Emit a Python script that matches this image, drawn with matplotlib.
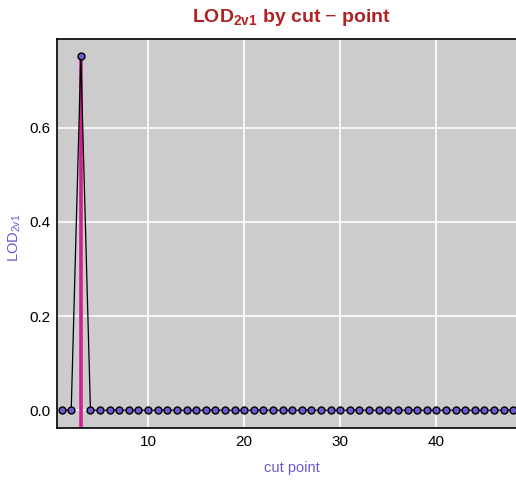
import matplotlib
matplotlib.use("Agg")
import matplotlib.pyplot as plt
import numpy as np

plt.rcParams["font.family"] = ["Liberation Sans", "DejaVu Sans"]
plt.rcParams["mathtext.fontset"] = "custom"
plt.rcParams["mathtext.rm"] = "Liberation Sans"
plt.rcParams["mathtext.bf"] = "Liberation Sans:bold"

cut_points = list(range(1, 49))
lod_values = [0.0, 0.0, 0.752] + [0.0] * 45
best_cut = 3
xticks = [10, 20, 30, 40]
yticks = [0.0, 0.2, 0.4, 0.6]

fig = plt.figure(figsize=(5.16, 4.80), dpi=100)
ax = fig.add_axes([57/516, 52/480, (518-57)/516, (428-39)/480])
ax.set_facecolor("#CCCCCC")
ax.set_xlim(0.52, 48.5)
ax.set_ylim(-0.038, 0.789)
ax.set_xticks(xticks)
ax.set_yticks(yticks)
ax.set_yticklabels(["0.0", "0.2", "0.4", "0.6"])
ax.grid(True, color="white", linewidth=1.2)
ax.set_axisbelow(True)
ax.tick_params(length=0, labelsize=11, pad=5)
for s in ["left", "bottom", "top"]:
    ax.spines[s].set_color("black")
    ax.spines[s].set_linewidth(1.2)
ax.spines["right"].set_visible(False)

idx = cut_points.index(best_cut)
ax.plot([best_cut, best_cut], [-0.038, lod_values[idx]], color="#D02090", linewidth=2.6, zorder=2)
ax.plot(cut_points, lod_values, color="black", linewidth=0.9, zorder=3)
ax.plot(cut_points, lod_values, linestyle="none", marker="o", markersize=5,
        markerfacecolor="#6A5ACD", markeredgecolor="black", markeredgewidth=1, zorder=4)

fig.text(292/516, 1 - 468/480, "cut point", color="#6A5ACD", fontsize=10.5,
         ha="center", va="center")
fig.text(15/516, 1 - 238/480, r"LOD$_{\mathregular{2v1}}$", color="#6A5ACD", fontsize=10.5,
         ha="center", va="center", rotation=90)
fig.text(292/516, 1 - 18/480, r"LOD$_{\mathbf{2v1}}$ by cut $-$ point", color="#B22222",
         fontsize=14, fontweight="bold", ha="center", va="center")

fig.savefig("out.png", dpi=100)
